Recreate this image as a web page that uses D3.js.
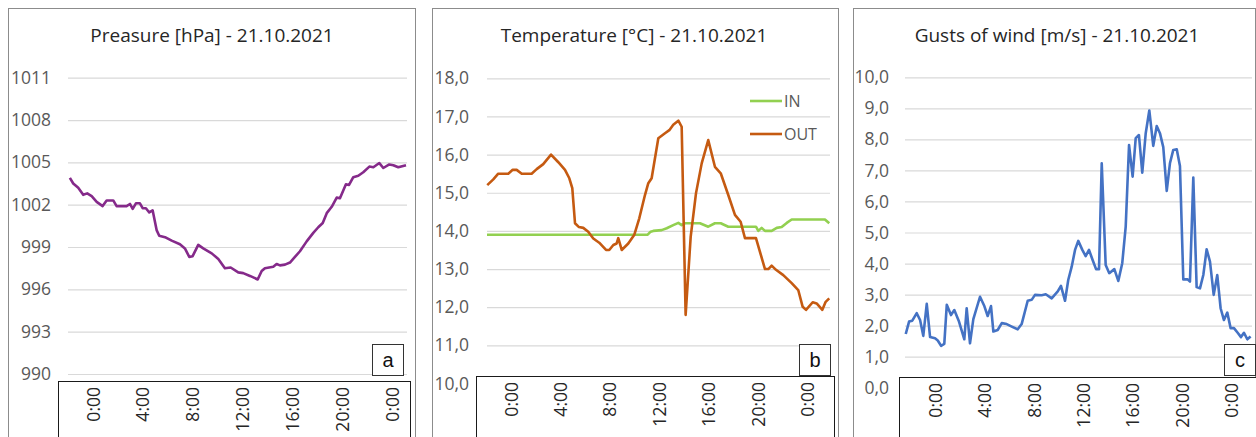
<!DOCTYPE html>
<html>
<head>
<meta charset="utf-8">
<script src="https://cdn.jsdelivr.net/npm/d3@7"></script>
<style>
body { margin: 0; background: #fff; }
svg { display: block; font-family: "Open Sans", sans-serif; }
</style>
</head>
<body>
<svg width="1256" height="437"></svg>
<script>

// ---- data (hours relative to 0:00 on 21.10.2021) ----
var hourTicks = [0, 4, 8, 12, 16, 20, 24];
var hourLabels = ["0:00", "4:00", "8:00", "12:00", "16:00", "20:00", "0:00"];

var pressureTicks = [990, 993, 996, 999, 1002, 1005, 1008, 1011];
var tempTicks = [10, 11, 12, 13, 14, 15, 16, 17, 18];
var gustTicks = [0, 1, 2, 3, 4, 5, 6, 7, 8, 9, 10];
var tempSeries = ["IN", "OUT"];

var pressure = [
    [-1.85, 1003.9], [-1.58, 1003.5], [-1.18, 1003.2], [-0.78, 1002.7], [-0.46, 1002.8],
    [-0.1, 1002.6], [0.3, 1002.2], [0.78, 1001.9], [1.1, 1002.3], [1.63, 1002.3],
    [1.9, 1001.9], [2.7, 1001.9], [2.97, 1002.05], [3.19, 1001.7], [3.45, 1002.1],
    [3.77, 1002.1], [3.99, 1001.75], [4.25, 1001.75], [4.52, 1001.45], [4.79, 1001.6],
    [5.11, 1000.2], [5.32, 999.8], [5.78, 999.7], [6.32, 999.45], [6.98, 999.2],
    [7.38, 998.9], [7.73, 998.3], [8.0, 998.35], [8.45, 999.15], [8.85, 998.9],
    [9.53, 998.55], [10.06, 998.15], [10.59, 997.5], [11.05, 997.55], [11.66, 997.2],
    [12.06, 997.15], [12.6, 996.95], [13.22, 996.7], [13.54, 997.3], [13.8, 997.5],
    [14.47, 997.6], [14.74, 997.8], [15.01, 997.7], [15.41, 997.75], [15.81, 997.9],
    [16.21, 998.3], [16.61, 998.7], [17.15, 999.4], [17.68, 1000.0], [18.08, 1000.4],
    [18.44, 1000.7], [18.76, 1001.4], [19.16, 1001.85], [19.56, 1002.5], [19.82, 1002.45],
    [20.3, 1003.45], [20.55, 1003.4], [20.89, 1003.95], [21.29, 1004.05], [21.69, 1004.3],
    [22.18, 1004.7], [22.5, 1004.65], [22.98, 1004.95], [23.3, 1004.6], [23.78, 1004.85],
    [24.1, 1004.8], [24.5, 1004.65], [25.12, 1004.8]
];

var tempIn = [
    [-1.94, 13.9], [11.06, 13.9], [11.3, 13.98], [11.51, 14.0], [12.19, 14.02],
    [12.6, 14.07], [13.13, 14.15], [13.54, 14.21], [13.81, 14.15], [14.08, 14.2],
    [15.29, 14.2], [15.96, 14.11], [16.5, 14.2], [16.97, 14.2], [17.58, 14.11],
    [19.82, 14.11], [20.01, 14.0], [20.28, 14.08], [20.55, 14.0], [21.09, 14.0],
    [21.5, 14.08], [21.9, 14.1], [22.31, 14.21], [22.71, 14.3], [25.4, 14.3],
    [25.75, 14.2]
];

var tempOut = [
    [-1.92, 15.2], [-1.43, 15.35], [-1.03, 15.5], [-0.22, 15.5], [0.14, 15.6],
    [0.46, 15.6], [0.87, 15.5], [1.67, 15.5], [2.08, 15.62], [2.61, 15.75],
    [3.24, 16.0], [3.83, 15.8], [4.37, 15.6], [4.72, 15.38], [4.96, 15.12],
    [5.18, 14.2], [5.5, 14.1], [5.85, 14.08], [6.25, 13.98], [6.66, 13.8],
    [7.14, 13.69], [7.69, 13.5], [7.95, 13.5], [8.28, 13.63], [8.55, 13.67],
    [8.68, 13.81], [8.96, 13.5], [9.49, 13.67], [9.98, 13.9], [10.38, 14.33],
    [10.84, 14.94], [11.11, 15.25], [11.38, 15.38], [11.92, 16.43], [12.46, 16.56],
    [12.81, 16.64], [13.13, 16.78], [13.54, 16.89], [13.81, 16.73], [14.13, 11.8],
    [14.54, 13.85], [14.97, 14.99], [15.43, 15.77], [15.96, 16.38], [16.5, 15.68],
    [16.97, 15.51], [17.58, 14.94], [18.12, 14.42], [18.58, 14.24], [18.93, 13.81],
    [19.82, 13.81], [20.55, 13.0], [20.82, 13.0], [21.09, 13.09], [21.44, 12.98],
    [22.03, 12.84], [22.71, 12.63], [23.24, 12.45], [23.6, 12.01], [23.87, 11.93],
    [24.41, 12.13], [24.73, 12.1], [25.19, 11.93], [25.46, 12.14], [25.75, 12.23]
];

var gusts = [
    [-2.37, 1.73], [-2.1, 2.13], [-1.84, 2.16], [-1.48, 2.4], [-1.21, 2.18],
    [-0.95, 1.67], [-0.67, 2.7], [-0.4, 1.63], [0, 1.59], [0.22, 1.52],
    [0.49, 1.35], [0.75, 1.41], [0.95, 2.67], [1.29, 2.34], [1.56, 2.5],
    [1.94, 2.13], [2.37, 1.56], [2.56, 2.56], [2.83, 1.43], [3.1, 2.21],
    [3.64, 2.93], [3.99, 2.63], [4.26, 2.31], [4.53, 2.63], [4.72, 1.81],
    [5.07, 1.86], [5.4, 2.08], [5.8, 2.05], [6.21, 1.97], [6.69, 1.88],
    [7.01, 2.05], [7.5, 2.8], [7.82, 2.83], [8.09, 2.99], [8.63, 2.98],
    [8.96, 3.01], [9.44, 2.88], [9.93, 3.1], [10.19, 3.28], [10.52, 2.8],
    [10.78, 3.47], [11.06, 3.9], [11.33, 4.44], [11.59, 4.73], [11.92, 4.44],
    [12.19, 4.24], [12.46, 4.44], [12.73, 4.14], [13.03, 3.82], [13.27, 3.82],
    [13.49, 7.23], [13.81, 3.95], [14.1, 3.69], [14.51, 3.82], [14.83, 3.44],
    [15.15, 4.01], [15.43, 5.19], [15.7, 7.82], [15.99, 6.8], [16.24, 8.04],
    [16.5, 8.14], [16.77, 6.93], [17.05, 8.2], [17.34, 8.93], [17.66, 7.79],
    [17.94, 8.43], [18.2, 8.2], [18.47, 7.75], [18.75, 6.34], [19.01, 7.23],
    [19.28, 7.66], [19.56, 7.68], [19.82, 7.14], [20.09, 3.49], [20.44, 3.49],
    [20.63, 3.42], [20.9, 6.77], [21.17, 3.24], [21.44, 3.2], [21.71, 3.63],
    [21.98, 4.46], [22.25, 4.06], [22.55, 2.99], [22.84, 3.63], [23.11, 2.56],
    [23.38, 2.18], [23.65, 2.42], [23.92, 1.92], [24.19, 1.92], [24.49, 1.77],
    [24.76, 1.63], [25.0, 1.77], [25.27, 1.56], [25.54, 1.65]
];

var svg = d3.select("svg");

var commaFmt = d3.formatLocale({ decimal: ",", thousands: ".", grouping: [3], currency: ["", ""] }).format(".1f");

function drawPanel(p) {

    var g = svg.append("g");

    // chart frame
    g.append("rect")
        .attr("x", p.frame[0] + 0.5)
        .attr("y", 8.5)
        .attr("width", p.frame[1] - p.frame[0])
        .attr("height", 460)
        .style("fill", "#fff")
        .style("stroke", "#8c8c8c");

    g.append("text")
        .attr("x", p.titleX)
        .attr("y", 42)
        .attr("text-anchor", "middle")
        .style("font-size", "19px")
        .style("fill", "#262626")
        .text(p.title);

    var x = d3.scaleLinear().domain(p.xDomain).range(p.plotX);
    var y = d3.scaleLinear().domain(p.yDomain).range(p.yRange);

    // gridlines
    var grid = g.append("g")
        .attr("transform", "translate(" + p.plotX[0] + ",0)")
        .call(d3.axisRight(y).tickValues(p.yTicks).tickSize(p.plotX[1] - p.plotX[0]).tickFormat(""));
    grid.select(".domain").remove();
    grid.selectAll("line").style("stroke", "#d9d9d9").style("stroke-width", 1.2);

    // y labels
    var yAxis = g.append("g")
        .attr("transform", "translate(" + p.labelX + ",0)")
        .call(d3.axisLeft(y).tickValues(p.yTicks).tickSize(0).tickPadding(0).tickFormat(p.yFormat));
    yAxis.select(".domain").remove();
    yAxis.selectAll("text")
        .style("font-family", "'Open Sans', sans-serif")
        .style("font-size", "17.5px")
        .style("fill", "#595959");

    var line = d3.line()
        .x(function (d) { return x(d[0]); })
        .y(function (d) { return y(d[1]); });

    p.series.forEach(function (s) {
        g.append("path")
            .datum(s.data)
            .attr("d", line)
            .style("fill", "none")
            .style("stroke", s.color)
            .style("stroke-width", 2.6)
            .style("stroke-linejoin", "round");
    });

    // boxed category axis
    g.append("rect")
        .attr("x", p.axisBox[0] + 0.5)
        .attr("y", p.axisBox[2] + 0.5)
        .attr("width", p.axisBox[1] - p.axisBox[0])
        .attr("height", 80)
        .style("fill", "#fff")
        .style("stroke", "#1a1a1a");

    var xAxis = g.append("g")
        .attr("transform", "translate(0," + p.axisBox[2] + ")")
        .call(d3.axisBottom(x).tickValues(hourTicks).tickSize(0)
            .tickFormat(function (d, i) { return hourLabels[i]; }));
    xAxis.select(".domain").remove();
    xAxis.selectAll("text")
        .attr("y", 0)
        .attr("x", -6)
        .attr("dy", "0.35em")
        .attr("transform", "rotate(-90)")
        .style("text-anchor", "end")
        .style("font-family", "'Open Sans', sans-serif")
        .style("font-size", "17.5px")
        .style("fill", "#262626");

    // panel letter
    g.append("rect")
        .attr("x", p.corner[0] + 0.5)
        .attr("y", p.corner[1] + 0.5)
        .attr("width", 31)
        .attr("height", 31)
        .style("fill", "#fff")
        .style("stroke", "#333");
    g.append("text")
        .attr("x", p.corner[0] + 16)
        .attr("y", p.corner[1] + 23)
        .attr("text-anchor", "middle")
        .style("font-family", "'Liberation Sans', Arial, sans-serif")
        .style("font-size", "20px")
        .style("fill", "#111")
        .text(p.letter);

    if (p.legend) {
        p.series.forEach(function (s, i) {
            var ly = p.legend[1] + i * 33;
            g.append("line")
                .attr("x1", p.legend[0]).attr("x2", p.legend[0] + 32)
                .attr("y1", ly).attr("y2", ly)
                .style("stroke", s.color)
                .style("stroke-width", 2.6);
            g.append("text")
                .attr("x", p.legend[0] + 34)
                .attr("y", ly)
                .attr("dy", "0.35em")
                .style("font-size", "16px")
                .style("fill", "#595959")
                .text(s.name);
        });
    }
}

drawPanel({
    frame: [8, 415],
    title: "Preasure [hPa] - 21.10.2021",
    titleX: 212,
    plotX: [68, 407],
    xDomain: [-2, 25.2],
    yDomain: [990, 1011],
    yRange: [374, 77.7],
    yTicks: pressureTicks,
    yFormat: d3.format("d"),
    labelX: 51,
    axisBox: [58, 410, 381],
    corner: [372, 344],
    letter: "a",
    series: [{ name: "Pressure", data: pressure, color: "#852a8a" }]
});

drawPanel({
    frame: [432, 838],
    title: "Temperature [°C] - 21.10.2021",
    titleX: 634,
    plotX: [487, 830],
    xDomain: [-1.94, 25.81],
    yDomain: [10, 18],
    yRange: [383.5, 78.3],
    yTicks: tempTicks,
    yFormat: commaFmt,
    labelX: 469,
    axisBox: [476, 834, 376],
    corner: [799, 344],
    letter: "b",
    legend: [750, 101],
    series: [
        { name: tempSeries[0], data: tempIn, color: "#92d050" },
        { name: tempSeries[1], data: tempOut, color: "#c55a11" }
    ]
});

drawPanel({
    frame: [853, 1255],
    title: "Gusts of wind [m/s] - 21.10.2021",
    titleX: 1057,
    plotX: [905, 1252],
    xDomain: [-2.43, 25.65],
    yDomain: [0, 10],
    yRange: [387.7, 77.3],
    yTicks: gustTicks,
    yFormat: commaFmt,
    labelX: 889,
    axisBox: [899, 1260, 377],
    corner: [1224, 344],
    letter: "c",
    series: [{ name: "Gusts", data: gusts, color: "#4472c4" }]
});

</script>
</body>
</html>
